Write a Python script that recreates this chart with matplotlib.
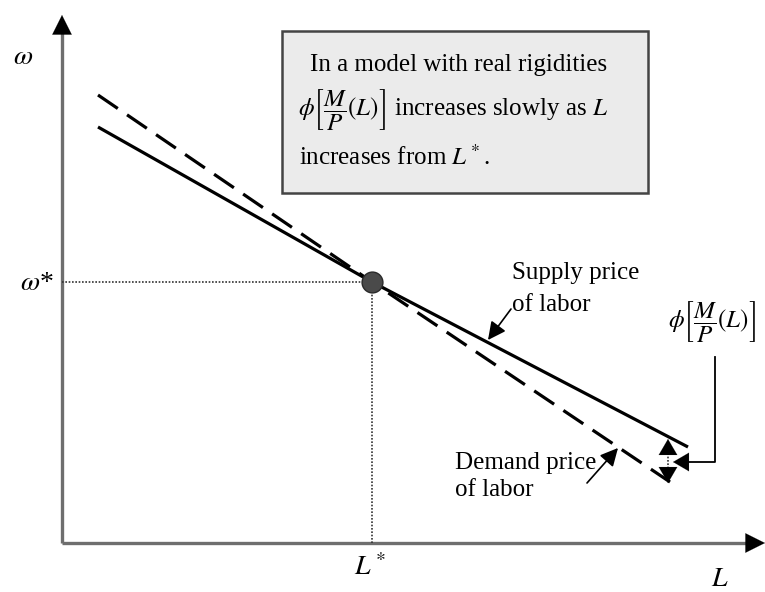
import matplotlib
matplotlib.use("Agg")
import matplotlib.pyplot as plt
from matplotlib.patches import Rectangle

plt.rcParams['mathtext.fontset'] = 'stix'
plt.rcParams['font.family'] = ['Liberation Serif', 'DejaVu Serif']

# ---- data (diagram units: L to the right, omega upward, origin at axes corner)
supply_L = [36, 310, 626]
supply_w = [416, 261, 96]
demand_L = [36, 310, 608]
demand_w = [448, 261, 61]
L_star = 310
w_star = 261
L_max = 703
w_max = 528
gap_L = 606
gap_top = 104
gap_bot = 60

fig = plt.figure(figsize=(7.65, 5.92), dpi=100)
ax = fig.add_axes([0, 0, 1, 1])
ax.set_xlim(-62, 703)
ax.set_ylim(-49, 543)
ax.axis('off')

axis_col = '#6e6e6e'
head = '-|>,head_length=0.7,head_width=0.35'
# axes
ax.plot([0, 0], [0, w_max - 8], color=axis_col, lw=2.4, solid_capstyle='butt')
ax.plot([0, L_max - 8], [0, 0], color=axis_col, lw=2.4, solid_capstyle='butt')
ax.annotate('', xy=(0, w_max), xytext=(0, w_max - 12),
            arrowprops=dict(arrowstyle=head, color='black', lw=0.1,
                            mutation_scale=20, shrinkA=0, shrinkB=0))
ax.annotate('', xy=(L_max, 0), xytext=(L_max - 12, 0),
            arrowprops=dict(arrowstyle=head, color='black', lw=0.1,
                            mutation_scale=20, shrinkA=0, shrinkB=0))

# dotted guides
ax.plot([0, L_star], [w_star, w_star], color='#333333', lw=1.2, ls=(0, (1, 1)))
ax.plot([L_star, L_star], [0, w_star], color='#333333', lw=1.2, ls=(0, (1, 1)))

# curves
ax.plot(supply_L, supply_w, color='black', lw=2.3, solid_capstyle='butt')
ax.plot(demand_L, demand_w, color='black', lw=2.3, ls=(0, (7.5, 3.5)),
        dash_capstyle='butt')

# equilibrium dot
ax.plot([L_star], [w_star], 'o', ms=15, mfc='#4a4a4a', mec='#2a2a2a', mew=1,
        zorder=5)

# gap double arrow
ax.plot([gap_L, gap_L], [gap_bot + 8, gap_top - 8], color='#333333', lw=1.2,
        ls=(0, (1, 1)))
small_head = '-|>,head_length=0.6,head_width=0.35'
for y0, y1 in [(gap_top - 12, gap_top), (gap_bot + 12, gap_bot)]:
    ax.annotate('', xy=(gap_L, y1), xytext=(gap_L, y0),
                arrowprops=dict(arrowstyle=small_head, color='black', lw=0.1,
                                mutation_scale=19, shrinkA=0, shrinkB=0))

# connector from phi label
ax.plot([653, 653, 625], [186, 81, 81], color='black', lw=1.3)
ax.annotate('', xy=(611, 81), xytext=(628, 81),
            arrowprops=dict(arrowstyle=small_head, color='black', lw=0.1,
                            mutation_scale=19, shrinkA=0, shrinkB=0))

fs = 18
PHI = r'$\phi\left[\dfrac{M}{P}(L)\right]$'
# labels
ax.text(-39, 485, r'$\omega$', fontsize=20, ha='center', va='center')
ax.text(-25, 260, r'$\omega$*', fontsize=20, ha='center', va='center')
ax.text(L_star - 2, -25, r'$L^*$', fontsize=20, ha='center', va='center')
ax.text(658, -37, r'$L$', fontsize=20, ha='center', va='center')

ax.text(650, 222, PHI, fontsize=fs, ha='center', va='center')

# supply / demand labels with arrows
ax.text(450, 270, 'Supply price', fontsize=fs, ha='left', va='center')
ax.text(450, 238, 'of labor', fontsize=fs, ha='left', va='center')
lab_head = '-|>,head_length=0.6,head_width=0.3'
ax.annotate('', xy=(426, 203), xytext=(449, 234),
            arrowprops=dict(arrowstyle=lab_head, color='black', lw=1.2,
                            mutation_scale=18, shrinkA=0, shrinkB=0))
ax.text(393, 80, 'Demand price', fontsize=fs, ha='left', va='center')
ax.text(393, 53, 'of labor', fontsize=fs, ha='left', va='center')
ax.annotate('', xy=(556, 95), xytext=(525, 60),
            arrowprops=dict(arrowstyle=lab_head, color='black', lw=1.2,
                            mutation_scale=18, shrinkA=0, shrinkB=0))

# box
ax.add_patch(Rectangle((220, 350), 366, 162, facecolor='#ebebeb',
                       edgecolor='#444444', lw=1.8, zorder=1))
ax.text(248, 478, 'In a model with real rigidities', fontsize=fs,
        ha='left', va='center', zorder=2)
ax.text(236, 433, PHI + r' increases slowly as $L$', fontsize=fs,
        ha='left', va='center', zorder=3)
ax.text(237, 386, r'increases from $L^*$.', fontsize=fs, ha='left',
        va='center', zorder=2)

fig.savefig('out.png', dpi=100)
